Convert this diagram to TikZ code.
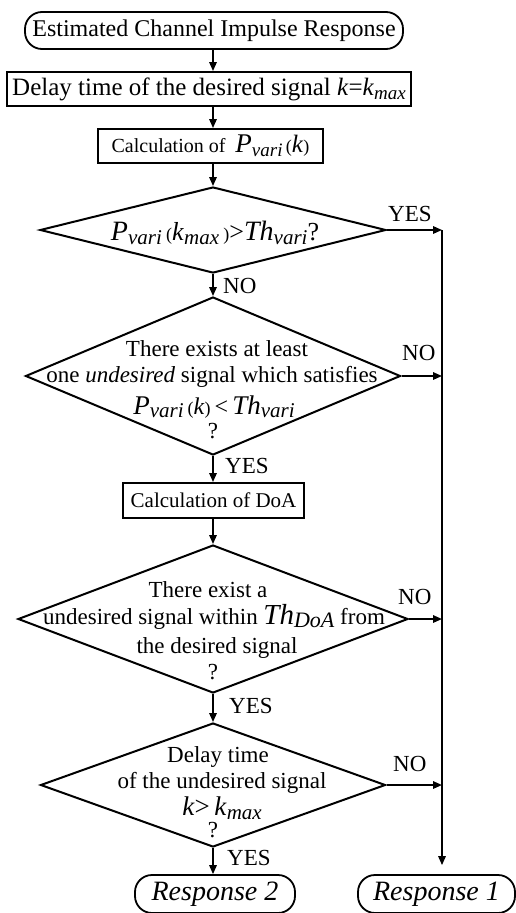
\documentclass[tikz,border=0pt]{standalone}
\usepackage{fontspec}
\setmainfont{Liberation Serif}
\usetikzlibrary{arrows.meta,shapes.geometric}
\newcommand\fs[1]{\fontsize{#1}{#1}\selectfont}
\newcommand\sbs[1]{\raisebox{-0.35ex}{\itshape\fs{19}#1}}
\newcommand\sbb[1]{\raisebox{-0.35ex}{\itshape\fs{21}#1}}
\newcommand\smp[1]{{\fs{18}#1}}
\begin{document}
\begin{tikzpicture}[x=1pt,y=-1pt,
  box/.style={draw, line width=2pt, rectangle, inner sep=0pt},
  term/.style={draw, line width=1.8pt, rectangle, rounded corners=17pt, inner sep=0pt},
  dia/.style={draw, line width=2pt, diamond, inner sep=0pt},
  arr/.style={line width=1.6pt, -{Triangle[length=9pt,width=7.5pt]}},
  lbl/.style={inner sep=0pt, anchor=base west, font=\fs{23}},
  txt/.style={inner sep=0pt, anchor=base, font=\fs{23}}]
\useasboundingbox (0,0) rectangle (516,913);
\coordinate (ax) at (213,0);
\coordinate (rx) at (442,0);

% boxes
\node[term, minimum width=378pt, minimum height=37pt, font=\fs{24}] (start) at (214,30.5) {Estimated Channel Impulse Response};
\node[box, minimum width=404pt, minimum height=34pt, font=\fs{25}] (b2) at (209,89) {Delay time of the desired signal \textit{k}=\textit{k}\sbs{max}};
\node[box, minimum width=225pt, minimum height=34pt, font=\fs{20}] (b3) at (210.5,146) {Calculation of \ {\fs{27}\textit{P}}\sbs{vari}\,\smp{(}{\fs{25}\textit{k}}\smp{)}};

% diamond 1
\node[dia, minimum width=346pt, minimum height=86pt] (d1) at (213,230) {};
\node[txt, font=\fs{26}] (t1) at (215,240) {{\fs{28}\textit{P}}\sbb{vari}\,\smp{(}\textit{k}\sbb{max}\,\smp{)}>{\fs{28}\textit{Th}}\sbb{vari}?};

% diamond 2
\node[dia, minimum width=375pt, minimum height=158pt] (d2) at (213,376) {};
\node[txt] (t2a) at (217,356) {There exists at least};
\node[txt] (t2b) at (212,382) {one \textit{undesired} signal which satisfies};
\node[txt, font=\fs{24}] (t2c) at (214,414) {{\fs{27}\textit{P}}\sbb{vari}\,\smp{(}\textit{k}\smp{)}\,<\,{\fs{27}\textit{Th}}\sbb{vari}};
\node[txt] (t2d) at (213,438) {?};

% DoA box
\node[box, minimum width=181pt, minimum height=35pt, font=\fs{21}] (b4) at (213.5,500.5) {Calculation of DoA};

% diamond 3
\node[dia, minimum width=390pt, minimum height=148pt] (d3) at (213,619) {};
\node[txt] (t3a) at (208,597) {There exist a};
\node[txt] (t3b) at (214,624) {undesired signal within {\fs{29}\textit{Th}}\raisebox{-0.35ex}{\itshape\fs{22}DoA} from};
\node[txt] (t3c) at (217,653) {the desired signal};
\node[txt] (t3d) at (213,679) {?};

% diamond 4
\node[dia, minimum width=345pt, minimum height=124pt] (d4) at (213,785) {};
\node[txt] (t4a) at (218,762) {Delay time};
\node[txt] (t4b) at (222,788) {of the undesired signal};
\node[txt, font=\fs{27}] (t4c) at (222,815) {\textit{k}>\,\textit{k}\sbb{max}};
\node[txt] (t4d) at (213,837) {?};

% terminals
\node[term, minimum width=160pt, minimum height=38pt, font=\fs{28}\itshape] (r2) at (215,894) {Response 2};
\node[term, minimum width=157pt, minimum height=38pt, font=\fs{28}\itshape] (r1) at (436.5,894) {Response 1};

% main flow
\draw[arr] (start.south -| ax) -- (b2.north -| ax);
\draw[arr] (b2.south -| ax) -- (b3.north -| ax);
\draw[arr] (b3.south -| ax) -- (d1.north);
\draw[arr] (d1.south) -- (d2.north);
\draw[arr] (d2.south) -- (b4.north -| ax);
\draw[arr] (b4.south -| ax) -- (d3.north);
\draw[arr] (d3.south) -- (d4.north);
\draw[arr] (d4.south) -- (r2.north -| ax);

% right rail
\draw[arr] (d1.east) -- (d1.east -| rx);
\draw[arr] (d2.east) -- (d2.east -| rx);
\draw[arr] (d3.east) -- (d3.east -| rx);
\draw[arr] (d4.east) -- (d4.east -| rx);
\draw[arr, shorten >=9pt] (d1.east -| rx) -- (r1.north -| rx);

% labels
\node[lbl] (l1) at (388,221.5) {YES};
\node[lbl] (l2) at (223,293) {NO};
\node[lbl] (l3) at (402,360) {NO};
\node[lbl] (l4) at (225,473) {YES};
\node[lbl] (l5) at (398,604) {NO};
\node[lbl] (l6) at (229,713) {YES};
\node[lbl] (l7) at (393,771) {NO};
\node[lbl] (l8) at (227,865) {YES};
\end{tikzpicture}
\end{document}
